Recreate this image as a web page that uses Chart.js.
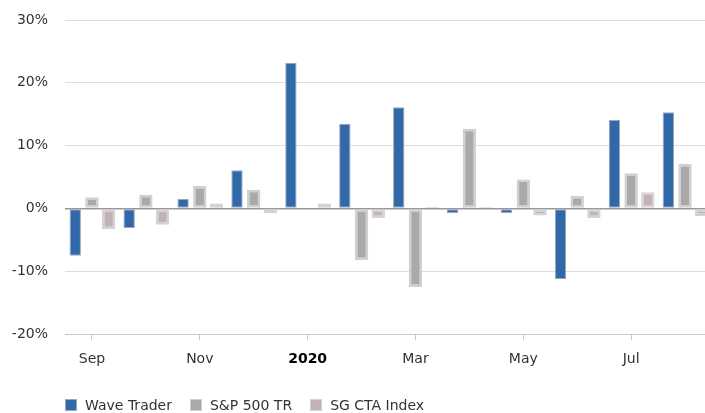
<!DOCTYPE html>
<html>
<head>
<meta charset="utf-8">
<script src="https://cdn.jsdelivr.net/npm/chart.js@4"></script>
<style>
    body { margin: 0; background: #fff; }
    #wrap { position: relative; width: 705px; height: 413px; overflow: hidden; }
    #legend {
        position: absolute; left: 65px; top: 397px;
        font: 14px "DejaVu Sans", Verdana, sans-serif; color: #333;
        display: flex; white-space: nowrap;
    }
    #legend span.item { display: flex; align-items: center; margin-right: 18px; }
    #legend span.box { width: 12px; height: 12px; margin-right: 8px; box-sizing: border-box; }
</style>
</head>
<body>
<div id="wrap">
    <!-- canvas a bit wider than the page, the last bar gets cut like in the original -->
    <canvas id="chart" width="712" height="413"></canvas>
    <div id="legend"></div>
</div>
<script>
// monthly returns, Sep 2019 - Aug 2020
const months = ["Sep", "Oct", "Nov", "Dec", "2020", "Feb", "Mar", "Apr", "May", "Jun", "Jul", "Aug"];
const waveTrader = [-7.5, -3.1, 1.5, 6.1, 23.2, 13.5, 16.1, -0.7, -0.7, -11.2, 14.1, 15.3];
const sp500 = [1.8, 2.2, 3.6, 3.0, -0.1, -8.2, -12.5, 12.7, 4.6, 2.0, 5.6, 7.1];
const sgCta = [-3.3, -2.6, 0.8, -0.7, 0.8, -1.5, 0.3, 0.3, -1.1, -1.5, 2.6, -1.2];
const yTicks = [-20, -10, 0, 10, 20, 30];

const fontFamily = '"DejaVu Sans", Verdana, sans-serif';

const series = [
    { label: "Wave Trader", data: waveTrader, fill: "#3068a8", border: "#9aa8ba", width: 1, pct: 0.68 },
    { label: "S&P 500 TR", data: sp500, fill: "#a9a9a9", border: "#d0d0d0", width: 2.5, pct: 0.8 },
    { label: "SG CTA Index", data: sgCta, fill: "#c2b2b8", border: "#d6d2d4", width: 2.5, pct: 0.8 }
];

const isYear = (c) => c.tick && months[c.tick.value] === "2020";

const ctx = document.getElementById("chart");

new Chart(ctx, {
    type: "bar",
    data: {
        labels: months,
        datasets: series.map(s => ({
            label: s.label,
            data: s.data,
            backgroundColor: s.fill,
            borderColor: s.border,
            borderWidth: s.width,
            borderSkipped: false,
            barPercentage: s.pct,
            categoryPercentage: 0.93
        }))
    },
    options: {
        responsive: false,
        animation: false,
        layout: { padding: { top: 20, right: 0, bottom: 34, left: 0 } },
        plugins: {
            legend: { display: false },
            tooltip: { enabled: false }
        },
        scales: {
            x: {
                grid: {
                    offset: false,
                    drawOnChartArea: false,
                    drawTicks: true,
                    tickLength: 6,
                    color: "#c8c8c8"
                },
                border: { color: "#c8c8c8", width: 1 },
                ticks: {
                    autoSkip: false,
                    maxRotation: 0,
                    padding: 11,
                    color: (c) => isYear(c) ? "#000" : "#333",
                    font: (c) => ({ family: fontFamily, size: 14, weight: isYear(c) ? "bold" : "normal" }),
                    // only every second month gets a label and a tick mark
                    callback: (value, i) => i % 2 === 0 ? months[i] : null
                }
            },
            y: {
                min: -20,
                max: 30,
                afterFit: (scale) => {
                    scale.width = 65;
                    // labels may overhang, the outer padding is fixed above
                    scale.paddingTop = 0;
                    scale.paddingBottom = 0;
                },
                afterBuildTicks: (scale) => { scale.ticks = yTicks.map(v => ({ value: v })); },
                border: { display: false },
                grid: {
                    drawTicks: false,
                    color: (c) => c.tick.value === 0 ? "#999999" : (c.tick.value === -20 ? "#c8c8c8" : "#dddddd"),
                    lineWidth: (c) => c.tick.value === 0 ? 1.5 : 1
                },
                ticks: {
                    padding: 17,
                    color: "#333",
                    font: { family: fontFamily, size: 14 },
                    callback: (v) => v + "%"
                }
            }
        }
    }
});

// html legend under the plot
const legend = document.getElementById("legend");
series.forEach(s => {
    const item = document.createElement("span");
    item.className = "item";
    const box = document.createElement("span");
    box.className = "box";
    box.style.background = s.fill;
    box.style.border = "1px solid " + s.border;
    item.appendChild(box);
    item.appendChild(document.createTextNode(s.label));
    legend.appendChild(item);
});
</script>
</body>
</html>
